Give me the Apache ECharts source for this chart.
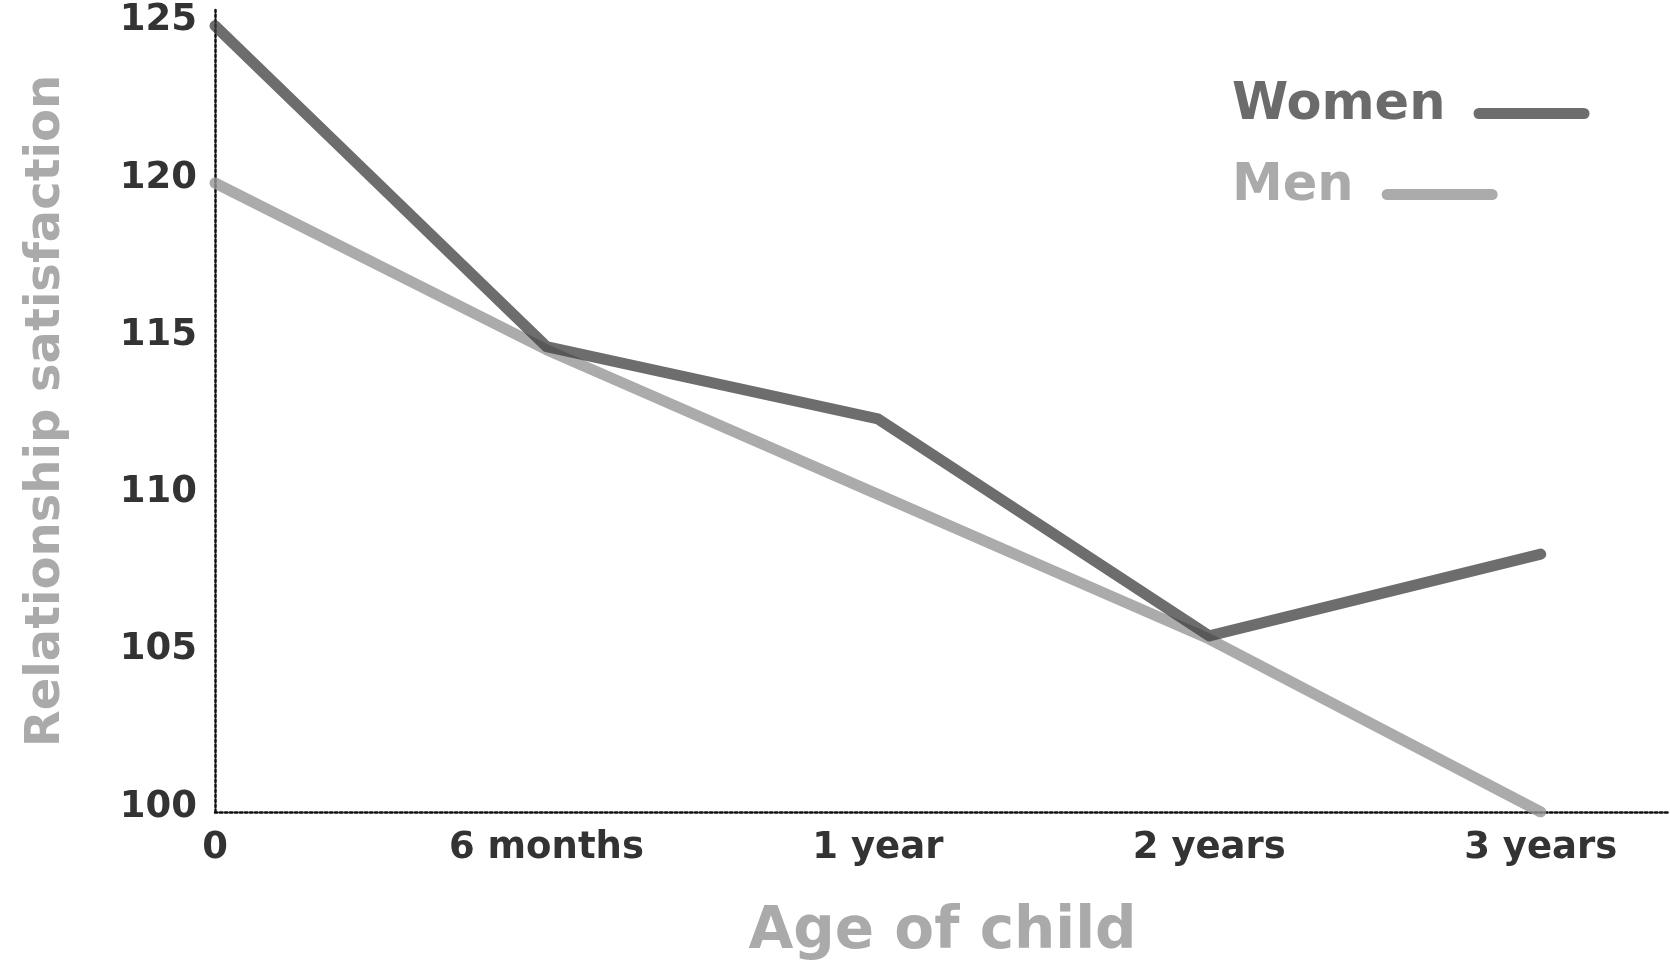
<!DOCTYPE html>
<html>
<head>
<meta charset="utf-8">
<title>Relationship satisfaction</title>
<script src="https://cdn.jsdelivr.net/npm/echarts@6/dist/echarts.min.js"></script>
<style>
  html, body { margin: 0; padding: 0; background: #fff; }
  #draw-main { width: 1670px; height: 962px; }
</style>
</head>
<body>
<div id="draw-main"></div>
<script>
// data
let ageLabels = ['0', '6 months', '1 year', '2 years', '3 years'];
let women = [125, 114.8, 112.5, 105.6, 108.2];
let men = [120, 114.7, 110.1, 105.5, 100];
let yTicks = [100, 105, 110, 115, 120, 125];

let font = 'DejaVu Sans';
// capsule sitting in the lower part of its box, so it shows a bit below the text
let lineIcon = 'path://M0,0 M5.5,16 L110.5,16 A5.5,5.5 0 0 1 110.5,27 L5.5,27 A5.5,5.5 0 0 1 5.5,16 Z';

function pairs(arr) {
    return arr.map(function (v, i) { return [i, v]; });
}

function legendFor(name, top, color) {
    return {
        data: [{ name: name, textStyle: { color: color } }],
        left: 1227,
        top: top,
        align: 'right',
        icon: lineIcon,
        itemWidth: 116,
        itemHeight: 27,
        selectedMode: false,
        textStyle: {
            fontFamily: font,
            fontWeight: 'bold',
            fontSize: 51,
            padding: [0, 23, 0, 0]
        }
    };
}

let myChart = echarts.init(document.getElementById('draw-main'));

let option = {
    animation: false,
    backgroundColor: '#fff',
    grid: {
        left: 215,
        right: 0,
        top: 10,
        bottom: 150,
        outerBoundsMode: 'none'
    },
    legend: [
        legendFor('Women', 75, '#6b6b6b'),
        legendFor('Men', 156, '#aaaaaa')
    ],
    xAxis: {
        type: 'value',
        min: 0,
        max: 4.39,
        interval: 1,
        name: 'Age of child',
        nameLocation: 'middle',
        nameGap: 92,
        nameTextStyle: {
            fontFamily: font,
            fontWeight: 'bold',
            fontSize: 58,
            color: '#aaaaaa'
        },
        axisLine: { show: true, lineStyle: { type: 'dotted', color: '#111', width: 2.5 } },
        axisTick: { show: false },
        splitLine: { show: false },
        axisLabel: {
            showMaxLabel: false,
            margin: 18,
            fontFamily: font,
            fontWeight: 'bold',
            fontSize: 37,
            color: '#333',
            formatter: function (v) {
                return ageLabels[v] !== undefined ? ageLabels[v] : '';
            }
        }
    },
    yAxis: {
        type: 'value',
        min: yTicks[0],
        max: 125.5,
        interval: 5,
        name: 'Relationship satisfaction',
        nameLocation: 'middle',
        nameGap: 144,
        nameRotate: 90,
        nameTextStyle: {
            fontFamily: font,
            fontWeight: 'bold',
            fontSize: 48,
            color: '#aaaaaa'
        },
        axisLine: { show: true, lineStyle: { type: 'dotted', color: '#111', width: 2.5 } },
        axisTick: { show: false },
        splitLine: { show: false },
        axisLabel: {
            showMaxLabel: false,
            margin: 18,
            formatter: '{a|{value}}',
            rich: {
                a: {
                    fontFamily: font,
                    fontWeight: 'bold',
                    fontSize: 37,
                    color: '#333',
                    padding: [0, 0, 10, 0]
                }
            }
        }
    },
    series: [
        {
            name: 'Men',
            type: 'line',
            data: pairs(men),
            symbol: 'none',
            color: 'rgba(150,150,150,0.8)',
            lineStyle: { width: 11, cap: 'round', join: 'round' }
        },
        {
            name: 'Women',
            type: 'line',
            data: pairs(women),
            symbol: 'none',
            color: 'rgba(60,60,60,0.75)',
            lineStyle: { width: 11, cap: 'round', join: 'round' }
        }
    ]
};

myChart.setOption(option, true);
</script>
</body>
</html>
